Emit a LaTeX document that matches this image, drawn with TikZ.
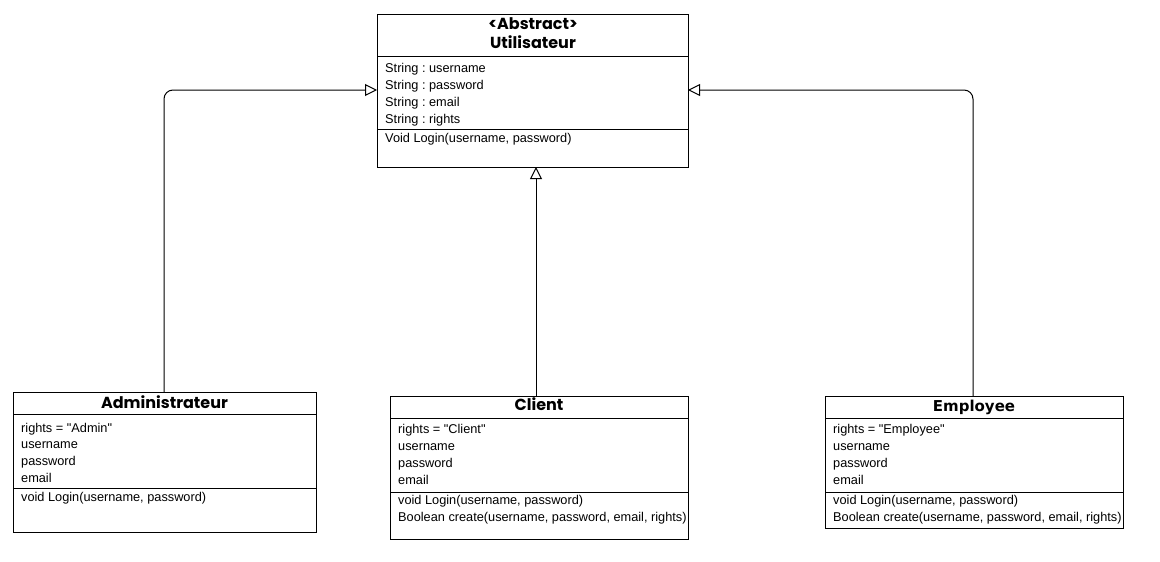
\documentclass[tikz,border=0pt]{standalone}
\usepackage{fontspec}
\setmainfont{Liberation Sans}[Ligatures=TeXOff]
\newfontfamily\popfont{Poppins}
\newfontfamily\dvfont{DejaVu Sans}
\usetikzlibrary{arrows.meta}
\frenchspacing
\begin{document}
\begin{tikzpicture}[x=1pt,y=-1pt,
  classbox/.style={draw=black, line width=1pt, anchor=north west, inner sep=0pt, fill=white},
  attr/.style={anchor=base west, inner sep=0pt, font=\fontsize{12.75}{14}\selectfont},
  ttl/.style={anchor=base, inner sep=0pt, font=\fontsize{16}{18}\popfont\bfseries},
  inherit/.style={draw=black, line width=1pt, rounded corners=9pt, -{Triangle[open, length=12pt, width=12pt, fill=white]}}
]
\useasboundingbox (0,0) rectangle (1160,562);
\fill[white] (0,0) rectangle (1160,562);

% Utilisateur
\node[classbox, minimum width=311pt, minimum height=153pt] (util) at (377,14) {};
\draw[line width=1pt] (377,56) -- (688,56);
\draw[line width=1pt] (377,129) -- (688,129);
\node[ttl] (uabs) at (533,30) {<Abstract>};
\node[ttl] (uname) at (533,48) {Utilisateur};
\node[attr] (ua1) at (385,72) {String : username};
\node[attr] (ua2) at (385,89) {String : password};
\node[attr] (ua3) at (385,106) {String : email};
\node[attr] (ua4) at (385,123) {String : rights};
\node[attr] (um1) at (385,142) {Void Login(username, password)};

% Administrateur
\node[classbox, minimum width=303pt, minimum height=140pt] (admin) at (13,392) {};
\draw[line width=1pt] (13,414) -- (316,414);
\draw[line width=1pt] (13,488) -- (316,488);
\node[ttl] (aname) at (164.5,408) {Administrateur};
\node[attr] (aa1) at (21,432) {rights = "Admin"};
\node[attr] (aa2) at (21,448) {username};
\node[attr] (aa3) at (21,465) {password};
\node[attr] (aa4) at (21,482) {email};
\node[attr] (am1) at (21,501) {void Login(username, password)};

% Client
\node[classbox, minimum width=298pt, minimum height=143pt] (client) at (390,396) {};
\draw[line width=1pt] (390,418) -- (688,418);
\draw[line width=1pt] (390,492) -- (688,492);
\node[ttl] (cname) at (539,410) {Client};
\node[attr] (ca1) at (398,433) {rights = "Client"};
\node[attr] (ca2) at (398,450) {username};
\node[attr] (ca3) at (398,467) {password};
\node[attr] (ca4) at (398,484) {email};
\node[attr] (cm1) at (398,504) {void Login(username, password)};
\node[attr] (cm2) at (398,521) {Boolean create(username, password, email, rights)};

% Employee
\node[classbox, minimum width=298pt, minimum height=132pt] (emp) at (825,396) {};
\draw[line width=1pt] (825,418) -- (1123,418);
\draw[line width=1pt] (825,492) -- (1123,492);
\node[anchor=base, inner sep=0pt, font=\fontsize{15}{17}\dvfont\bfseries] (ename) at (974,411) {Employee};
\node[attr] (ea1) at (833,433) {rights = "Employee"};
\node[attr] (ea2) at (833,450) {username};
\node[attr] (ea3) at (833,467) {password};
\node[attr] (ea4) at (833,484) {email};
\node[attr] (em1) at (833,504) {void Login(username, password)};
\node[attr] (em2) at (833,521) {Boolean create(username, password, email, rights)};

% Inheritance connectors
\coordinate (uleft) at (377,90);
\coordinate (uright) at (688,90);
\coordinate (ubot) at (536,167);
\path[inherit] (admin.north -| 164,0) |- (uleft);
\path[inherit] (emp.north -| 973,0) |- (uright);
\path[inherit] (client.north -| 536,0) -- (ubot);
\end{tikzpicture}
\end{document}
